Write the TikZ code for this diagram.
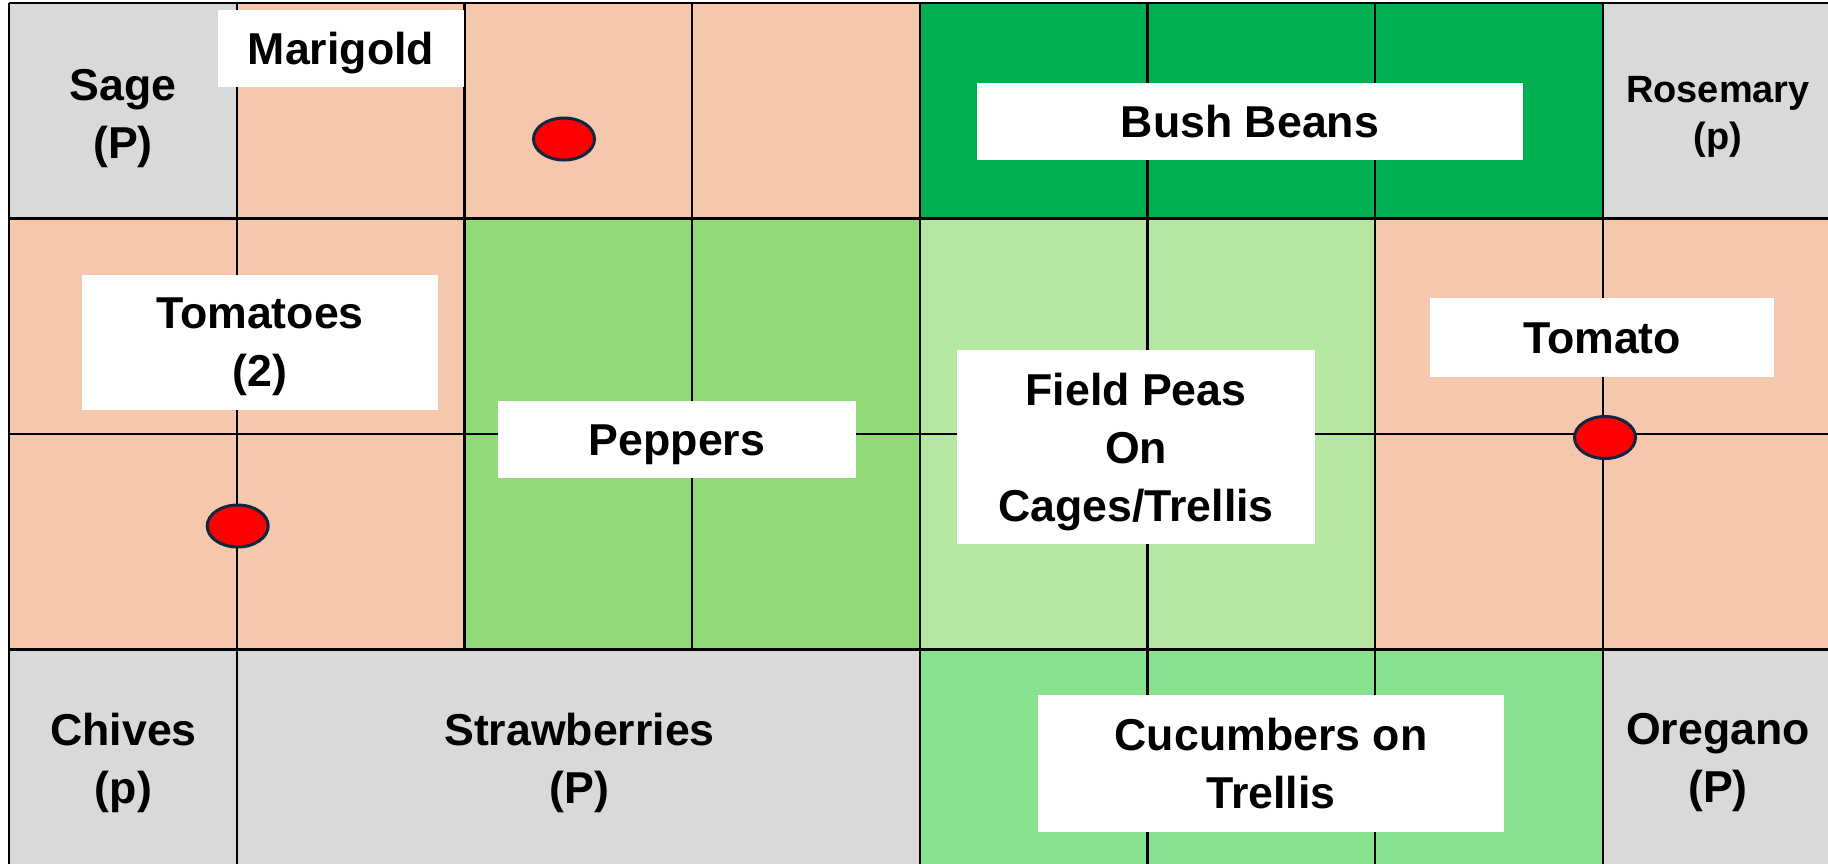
\documentclass[tikz,border=0pt]{standalone}
\usepackage{fontspec}
\setmainfont{Liberation Sans}
\usetikzlibrary{shapes.geometric}

\definecolor{bedgrey}{HTML}{D9D9D9}
\definecolor{peach}{HTML}{F5C7AD}
\definecolor{beangreen}{HTML}{00B050}
\definecolor{peppergreen}{HTML}{92D977}
\definecolor{peagreen}{HTML}{B5E6A2}
\definecolor{cukegreen}{HTML}{86E28F}
\definecolor{markerblue}{HTML}{0E2841}

\begin{document}
\begin{tikzpicture}[x=0.01cm,y=-0.01cm,line width=0.65pt]
    \tikzstyle{plant}=[align=center,inner sep=0pt,font=\bfseries\fontsize{12.7}{16.5}\selectfont]
    \tikzstyle{small plant}=[plant,font=\bfseries\fontsize{10.8}{13.4}\selectfont]
    \tikzstyle{label box}=[plant,fill=white,text depth=0pt]
    \tikzstyle{one line}=[text height=0.32cm]
    \tikzstyle{marker}=[ellipse,fill=red,draw=markerblue,line width=0.85pt,minimum width=0.61cm,minimum height=0.42cm,inner sep=0pt]

    \useasboundingbox (0,0) rectangle (1828,863);
    \clip (0,0) rectangle (1828,863);

    % Fill the beds
    \foreach \xa/\ya/\xb/\yb/\col in {9/3/236.7/218.5/bedgrey, 236.7/3/919.8/218.5/peach,
            919.8/3/1602.9/218.5/beangreen, 1602.9/3/1831/218.5/bedgrey,
            9/218.5/464.4/649.5/peach, 464.4/218.5/919.8/649.5/peppergreen,
            919.8/218.5/1375.2/649.5/peagreen, 1375.2/218.5/1831/649.5/peach,
            9/649.5/919.8/865/bedgrey, 919.8/649.5/1602.9/865/cukegreen,
            1602.9/649.5/1831/865/bedgrey}
        \fill[\col] (\xa,\ya) rectangle (\xb,\yb);

    % Draw the grid
    \foreach \y in {3, 218.5, 434, 649.5}
        \draw (9,\y) -- (1831,\y);
    \draw (9,3) -- (9,865);
    \foreach \i in {1,...,7}
        \draw ({9+\i*227.7},3) -- ({9+\i*227.7},649.5);
    \foreach \i in {1,4,5,6,7}
        \draw ({9+\i*227.7},649.5) -- ({9+\i*227.7},865);

    % Herbs and strawberries
    \node[plant] (sage) at (123,119) {Sage\\(P)};
    \node[small plant] (rosemary) at (1718,117) {Rosemary\\(p)};
    \node[plant] (chives) at (123.5,763) {Chives\\(p)};
    \node[plant] (strawberries) at (579.5,763) {Strawberries\\(P)};
    \node[plant] (oregano) at (1718,763) {Oregano\\(P)};

    % Labels on white boxes
    \node[label box, one line, minimum width=2.46cm, minimum height=0.77cm] (marigold) at (341,48.5) {Marigold};
    \node[label box, one line, minimum width=5.46cm, minimum height=0.77cm] (beans) at (1250,121.5) {Bush Beans};
    \node[label box, minimum width=3.56cm, minimum height=1.35cm] (tomatoes) at (260,342.5) {Tomatoes\\(2)};
    \node[label box, one line, minimum width=3.58cm, minimum height=0.77cm] (peppers) at (677,439.5) {Peppers};
    \node[label box, minimum width=3.58cm, minimum height=1.94cm] (peas) at (1136,447) {Field Peas\\On\\Cages/Trellis};
    \node[label box, one line, minimum width=3.44cm, minimum height=0.79cm] (tomato) at (1602,337.5) {Tomato};
    \node[label box, minimum width=4.66cm, minimum height=1.37cm] (cucumbers) at (1271,763.5) {Cucumbers on\\Trellis};

    % Red markers
    \node[marker] (dot-1) at (564,139) {};
    \node[marker] (dot-2) at (237.7,526) {};
    \node[marker] (dot-3) at (1605,437.5) {};
\end{tikzpicture}
\end{document}
